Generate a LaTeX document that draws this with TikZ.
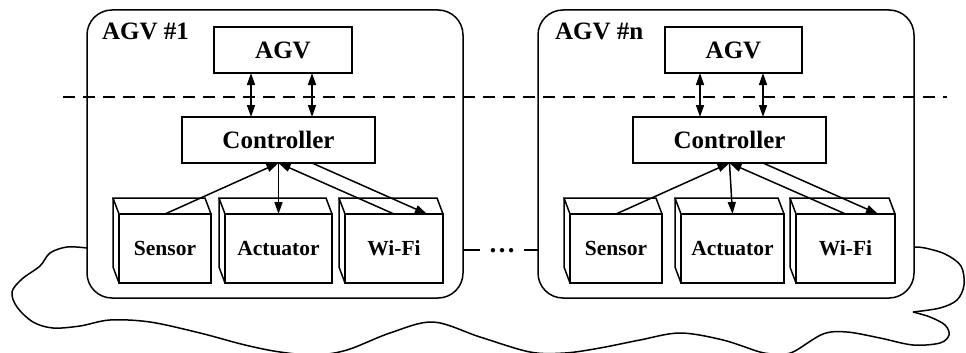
\documentclass[tikz,border=0pt]{standalone}
\usepackage{fontspec}
\setmainfont{Liberation Serif}
\usetikzlibrary{arrows.meta,calc}
\newcommand\cubeback[1]{%
  \draw (#1.north west) -- ++(-6,-16) coordinate (#1-b) -- ($(#1.north east)+(-6,-16)$) -- (#1.north east);
  \draw (#1-b) -- ++(0,69) -- (#1.south west);}
\begin{document}
\begin{tikzpicture}[x=1pt,y=-1pt, line width=1.5pt,
  every node/.style={outer sep=0pt},
  big/.style={font=\fontsize{25}{30}\selectfont\bfseries},
  small/.style={font=\fontsize{21.5}{26}\selectfont\bfseries},
  agvbox/.style={draw, rounded corners=25pt, minimum width=376pt, minimum height=288pt, inner sep=0pt},
  plainbox/.style={draw, inner sep=0pt, minimum height=46pt, big},
  cubeface/.style={draw, inner sep=0pt, minimum height=69pt, small},
  tip/.tip={Triangle[length=12pt,width=8pt]},
  conn/.style={-tip},
  dconn/.style={tip-tip},
]
\useasboundingbox (0,0) rectangle (966,353);

% cloud
\draw plot[smooth, tension=0.55] coordinates {
  (87,248) (67,247) (50,253) (40,266) (22,279) (12,292) (17,307) (33,322)
  (53,328) (80,326) (110,320) (150,322) (200,333) (245,345) (280,352)
  (315,355) (347,350) (390,333) (433,322) (480,337) (530,352) (565,353)
  (600,348) (640,340) (680,333) (723,340) (760,352) (777,354) (793,352)
  (823,334) (847,332) (880,338) (913,345) (940,343) (949,335) (945,325)
  (930,317) (913,312)};
\draw plot[smooth, tension=0.55] coordinates {
  (913,312) (940,308) (957,300) (964,285) (961,266) (945,254) (925,248) (914,247)};

% containers
\node[agvbox] (box1) at (275,154) {};
\node[agvbox] (box2) at (726,154) {};
\node[big, anchor=base west, inner sep=0pt] (lab1) at (102,40) {AGV \#1};
\node[big, anchor=base west, inner sep=0pt] (lab2) at (555,40) {AGV \#n};

% dashed separator
\draw[dash pattern=on 12pt off 8pt] (63,97) -- (947,97);

% AGV and controller boxes
\node[plainbox, minimum width=138pt] (agv1) at (283,50) {AGV};
\node[plainbox, minimum width=193pt] (ctrl1) at (278.5,140) {Controller};
\node[plainbox, minimum width=137pt] (agv2) at (733.5,50) {AGV};
\node[plainbox, minimum width=193pt] (ctrl2) at (729.5,140) {Controller};

% cubes
\node[cubeface, minimum width=92pt] (s1) at (165,248.5) {Sensor};
\node[cubeface, minimum width=107pt] (a1) at (278.5,248.5) {Actuator};
\node[cubeface, minimum width=98pt] (w1) at (394,248.5) {Wi-Fi};
\node[cubeface, minimum width=92pt] (s2) at (616,248.5) {Sensor};
\node[cubeface, minimum width=103pt] (a2) at (732.5,248.5) {Actuator};
\node[cubeface, minimum width=99pt] (w2) at (845.5,248.5) {Wi-Fi};
\foreach \c in {s1,a1,w1,s2,a2,w2} {\cubeback{\c}}

% AGV <-> controller
\coordinate (a1l) at ($(agv1.south)+(-32,0)$);
\coordinate (a1r) at ($(agv1.south)+(29,0)$);
\coordinate (a2l) at ($(agv2.south)+(-33.5,0)$);
\coordinate (a2r) at ($(agv2.south)+(29.5,0)$);
\draw[dconn] (a1l) -- (a1l |- ctrl1.north);
\draw[dconn] (a1r) -- (a1r |- ctrl1.north);
\draw[dconn] (a2l) -- (a2l |- ctrl2.north);
\draw[dconn] (a2r) -- (a2r |- ctrl2.north);

% controller <-> devices
\draw[conn] (s1.north) -- (ctrl1.south);
\draw[conn] (ctrl1.south) -- (a1.north);
\draw[conn] (w1.north) -- (ctrl1.south);
\draw[conn] ($(ctrl1.south)+(33.5,0)$) -- ($(w1.north east)+(-16,0)$);
\draw[conn] (s2.north) -- (ctrl2.south);
\draw[conn] (ctrl2.south) -- (a2.north);
\draw[conn] (w2.north) -- (ctrl2.south);
\draw[conn] ($(ctrl2.south)+(33.5,0)$) -- ($(w2.north east)+(-17,0)$);

% link between AGVs
\node[font=\fontsize{27}{30}\selectfont\bfseries, anchor=base, inner xsep=8.5pt, inner ysep=0pt] (dots) at (502,252) {…};
\draw (box1.east |- dots.west) -- (dots.west);
\draw (dots.east) -- (box2.west |- dots.east);
\end{tikzpicture}
\end{document}
